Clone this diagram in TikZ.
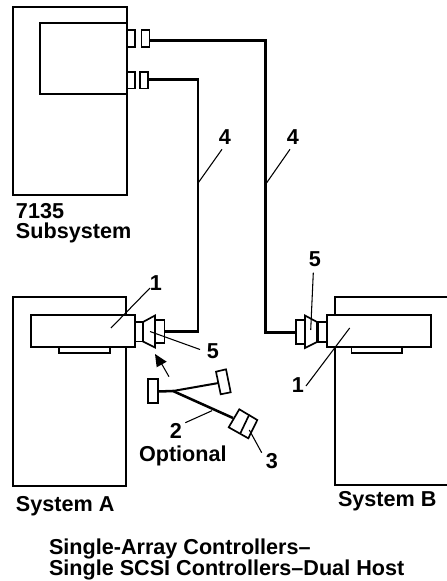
\documentclass[tikz,border=0pt]{standalone}
\usepackage{fontspec}
\setmainfont{Liberation Sans}
\tikzset{
  unit/.style={draw=black,line width=1.5pt,fill=white,line join=miter},
  thin box/.style={draw=black,line width=1.25pt,fill=white,line join=miter},
  cable/.style={draw=black,line width=1.9pt,line join=miter},
  leader/.style={draw=black,line width=0.8pt},
  lbl/.style={font=\bfseries\fontsize{16.2}{16.2}\selectfont,anchor=base west,inner sep=0pt,outer sep=0pt},
  num/.style={font=\bfseries\fontsize{16.2}{16.2}\selectfont,inner sep=0pt,outer sep=0pt,anchor=base}
}
\begin{document}
\begin{tikzpicture}[x=0.75pt,y=-0.75pt]
\useasboundingbox (0,0) rectangle (446,581);
% subsystem
\draw[unit] (12.5,7) rectangle (127,195);
\draw[unit] (39.5,23) rectangle (127,94);
\draw[thin box] (127,30) rectangle (135,47);
\draw[thin box] (141.5,30) rectangle (149.5,47);
\draw[thin box] (127,72) rectangle (135,88.5);
\draw[thin box] (140,72) rectangle (148,88.5);
\coordinate (subTop) at (149.5,40.5);
\coordinate (subLow) at (148,79.5);
% system A
\draw[unit] (12.5,297) rectangle (126,485.5);
\draw[thin box] (59,347) rectangle (110,353);
\draw[unit] (30.5,315) rectangle (135,347);
\draw[thin box] (135,322) rectangle (143,341.5);
\draw[thin box] (155,320) rectangle (164.5,343);
\draw[thin box] (143,322) -- (155,315.5) -- (155,347.5) -- (143,341.5) -- cycle;
\coordinate (portA) at (165,331.5);
% system B
\draw[unit] (449,297) -- (335,297) -- (335,485) -- (449,485);
\draw[thin box] (351.5,347) rectangle (402,353);
\draw[unit] (326.5,315) rectangle (431,347);
\draw[thin box] (318,322) rectangle (326.5,342);
\draw[thin box] (296,320) rectangle (305,344);
\draw[thin box] (317,322) -- (305,315.5) -- (305,348) -- (317,342) -- cycle;
\coordinate (portB) at (296,332.5);
% cables
\draw[cable] (subTop) -| (265.5,332.5) -- (portB);
\draw[cable] (subLow) -| (198,331.5) -- (portA);
% optional cable
\coordinate (junction) at (173,391);
\draw[thin box] (147.7,379.3) rectangle (158.3,402.7);
\draw[thin box] (216,371.7) -- (226,369.3) -- (230.7,392.3) -- (220.7,394.3) -- cycle;
\draw[thin box] (239.3,409.3) -- (257.3,420) -- (248.3,438.3) -- (228.7,427.3) -- cycle;
\draw[thin box] (249.3,414.5) -- (240,434);
\draw[cable] (158.3,391.5) -- (junction) -- (233,418);
\draw[line width=1.5pt] (junction) -- (218.5,383);
% arrow
\fill (155,354) -- (166.7,361.7) -- (156.7,367.3) -- cycle;
\draw[leader] (160,361) -- (169,376.7);
% leaders
\draw[leader] (222,149.3) -- (198.3,182.7);
\draw[leader] (290,149.3) -- (266.5,183);
\draw[leader] (111,328) -- (150,288);
\draw[leader] (150,331.5) -- (200,349.5);
\draw[leader] (185.3,422.7) -- (212,410.7);
\draw[leader] (249.3,430) -- (261.7,452.7);
\draw[leader] (313.3,272.7) -- (310.7,330);
\draw[leader] (349.7,328) -- (306,386);
% labels
\node[lbl] (t7135) at (16,218) {7135};
\node[lbl] (tSub) at (16,238) {Subsystem};
\node[lbl] (tSysA) at (16,511) {System A};
\node[lbl] (tSysB) at (338,506.7) {System B};
\node[lbl] (tOpt) at (139,461) {Optional};
\node[lbl] (tTit1) at (49,554) {Single-Array Controllers–};
\node[lbl] (tTit2) at (49,575) {Single SCSI Controllers–Dual Host};
\node[num] (n4a) at (225,145) {4};
\node[num] (n4b) at (293,145) {4};
\node[num] (n1a) at (156,290) {1};
\node[num] (n5a) at (213,358) {5};
\node[num] (n2) at (176,438) {2};
\node[num] (n3) at (272,468) {3};
\node[num] (n5b) at (315,266) {5};
\node[num] (n1b) at (298,392) {1};
\end{tikzpicture}
\end{document}
